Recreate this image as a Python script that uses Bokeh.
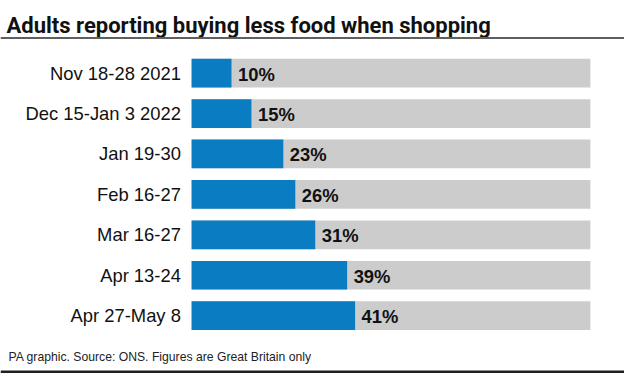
from bokeh.plotting import figure
from bokeh.models import Range1d, ColumnDataSource, Span
from bokeh.core.properties import value
from bokeh.embed import file_html
from bokeh.resources import INLINE

# ---- data ----
categories = ["Nov 18-28 2021", "Dec 15-Jan 3 2022", "Jan 19-30", "Feb 16-27",
              "Mar 16-27", "Apr 13-24", "Apr 27-May 8"]
values = [10, 15, 23, 26, 31, 39, 41]
full_scale = [100] * len(categories)
title_text = "Adults reporting buying less food when shopping"
footer_text = "PA graphic. Source: ONS. Figures are Great Britain only"

# ---- layout constants (figure pixels) ----
W, H = 624, 373
X0_PX = 191.1          # pixel of 0%
PX_PER_PCT = 3.988     # pixels per percent
Y0_PX = 72.6           # center of first row
ROW_PX = 40.43         # row pitch

def px_to_x(px):
    return (px - X0_PX) / PX_PER_PCT

def px_to_y(py):
    return (py - Y0_PX) / ROW_PX

BLUE = "#0a7cc1"
GREY = "#cccccc"
INK = "#111111"

p = figure(width=W, height=H, output_backend="svg", toolbar_location=None,
           x_range=Range1d(px_to_x(0), px_to_x(W)),
           y_range=Range1d(px_to_y(H), px_to_y(0)),
           min_border=0, outline_line_color=None)
p.axis.visible = False
p.grid.visible = False
p.background_fill_color = "white"
p.border_fill_color = "white"

rows = list(range(len(categories)))
src = ColumnDataSource(dict(
    y=rows, cat=categories, val=values, full=full_scale,
    lab=[f"{v}%" for v in values],
))

p.hbar(y="y", left=0, right="full", height=0.711, color=GREY, line_color=None, source=src)
p.hbar(y="y", left=0, right="val", height=0.711, color=BLUE, line_color=None, source=src)

p.text(x=px_to_x(180.4), y="y", text="cat", source=src, text_align="right",
       text_baseline="middle", text_font=value("Liberation Sans"),
       text_font_size="18.4px", text_color=INK)
p.text(x="val", y="y", text="lab", source=src, x_offset=6.5, y_offset=1,
       text_align="left", text_baseline="middle",
       text_font=value("Liberation Sans"), text_font_style="bold",
       text_font_size="18.4px", text_color=INK)

# title
p.text(x=[px_to_x(6)], y=[px_to_y(24.9)], text=[title_text], text_align="left",
       text_baseline="alphabetic", text_font=value("Roboto"),
       text_font_style="bold", text_font_size="22px", text_color=INK)
p.add_layout(Span(location=px_to_y(37.4), dimension="width",
                  line_color="#5f5f5f", line_width=2))

# footer
p.text(x=[px_to_x(8)], y=[px_to_y(356.4)], text=[footer_text], text_align="left",
       text_baseline="alphabetic", text_font=value("Liberation Sans"),
       text_font_size="12.2px", text_color="#222222")
p.add_layout(Span(location=px_to_y(371.6), dimension="width",
                  line_color="#1e1e1e", line_width=3))

open("out.html", "w").write(file_html(p, INLINE))
